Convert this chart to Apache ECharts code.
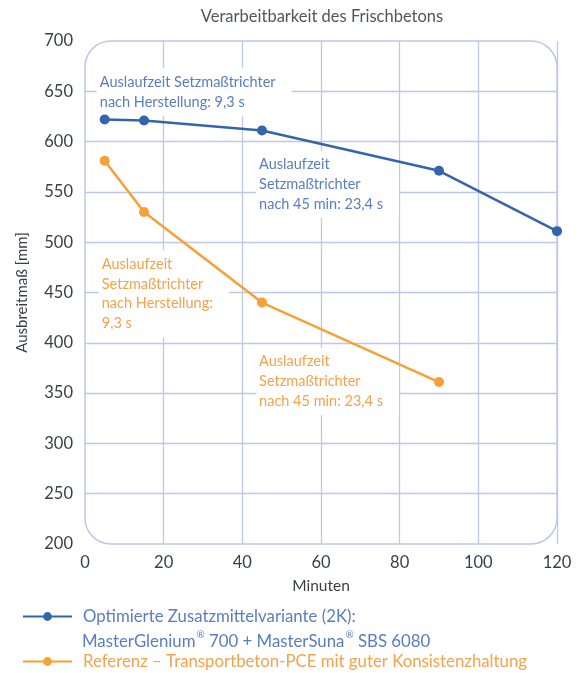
<!DOCTYPE html>
<html>
<head>
<meta charset="utf-8">
<script src="https://cdn.jsdelivr.net/npm/echarts@6/dist/echarts.min.js"></script>
<style>
html,body{margin:0;padding:0;background:#fff;}
#c{width:579px;height:673px;}
</style>
</head>
<body>
<div id="c"></div>
<script>
const titleText = 'Verarbeitbarkeit des Frischbetons';
const xName = 'Minuten';
const yName = 'Ausbreitmaß [mm]';
const blueName = 'Optimierte Zusatzmittelvariante (2K):';
const blueName2Parts = ['MasterGlenium', '®', ' 700 + MasterSuna', '®', ' SBS 6080'];
const orangeName = 'Referenz – Transportbeton-PCE mit guter Konsistenzhaltung';
const blueX = [5, 15, 45, 90, 120];
const blueY = [622, 621, 611, 571, 511];
const orangeX = [5, 15, 45, 90];
const orangeY = [581, 530, 440, 361];
const notes = [
  'Auslaufzeit Setzmaßtrichter\nnach Herstellung: 9,3 s',
  'Auslaufzeit\nSetzmaßtrichter\nnach 45 min: 23,4 s',
  'Auslaufzeit\nSetzmaßtrichter\nnach Herstellung:\n9,3 s',
  'Auslaufzeit\nSetzmaßtrichter\nnach 45 min: 23,4 s'
];

const BLUE = '#3464ae', BLUE_T = '#5a7dc2';
const ORANGE = '#f7a037', ORANGE_T = '#f5a24c';
const GRIDC = '#bdc8e8';
const FONT = 'Lato, "Open Sans", sans-serif';

const chart = echarts.init(document.getElementById('c'), null, {renderer: 'canvas'});

const noteStyle = (text, color) => ({
  text: text, fill: color, font: '14.5px ' + FONT, lineHeight: 19.8,
  backgroundColor: '#fff', padding: [4, 16, 4, 3]
});

const legendBase = {
  orient: 'horizontal', left: 22, padding: 0, itemWidth: 49, itemHeight: 11,
  textStyle: {fontSize: 16.8, fontFamily: FONT, padding: [0, 0, 0, 6]}
};

chart.setOption({
  animation: false,
  backgroundColor: '#fff',
  textStyle: {fontFamily: FONT},
  title: {
    text: titleText, left: 322, top: 8, textAlign: 'center', padding: 0,
    textStyle: {fontSize: 16.5, fontWeight: 'normal', color: '#50565e', fontFamily: FONT}
  },
  grid: {left: 85, right: 22, top: 41, bottom: 129, containLabel: false},
  xAxis: {
    type: 'value', min: 0, max: 120, interval: 20,
    name: xName, nameLocation: 'middle', nameGap: 34,
    nameTextStyle: {fontSize: 15.5, color: '#3a3f47', fontFamily: FONT},
    axisLine: {show: false}, axisTick: {show: false},
    axisLabel: {fontSize: 16.5, color: '#3a3f47', margin: 10, fontFamily: FONT},
    splitLine: {show: true, showMinLine: false, showMaxLine: true, lineStyle: {color: GRIDC, width: 1.3}}
  },
  yAxis: {
    type: 'value', min: 200, max: 700, interval: 50,
    name: yName, nameLocation: 'middle', nameGap: 55, nameRotate: 90,
    nameTextStyle: {fontSize: 15, color: '#3a3f47', fontFamily: FONT},
    axisLine: {show: false}, axisTick: {show: false},
    axisLabel: {fontSize: 16.5, color: '#3a3f47', margin: 12, fontFamily: FONT},
    splitLine: {show: true, showMinLine: false, showMaxLine: false, lineStyle: {color: GRIDC, width: 1.3}}
  },
  legend: [
    Object.assign({}, legendBase, {top: 608, data: [{name: blueName, textStyle: {color: BLUE_T}}]}),
    Object.assign({}, legendBase, {top: 653, data: [{name: orangeName, textStyle: {color: ORANGE_T}}]})
  ],
  series: [
    {
      name: blueName, type: 'line', clip: false, z: 3,
      data: blueX.map((x, i) => [x, blueY[i]]),
      symbol: 'circle', symbolSize: 10,
      lineStyle: {color: BLUE, width: 2.5}, itemStyle: {color: BLUE}
    },
    {
      name: orangeName, type: 'line', clip: false, z: 3,
      data: orangeX.map((x, i) => [x, orangeY[i]]),
      symbol: 'circle', symbolSize: 10,
      lineStyle: {color: ORANGE, width: 2.5}, itemStyle: {color: ORANGE}
    }
  ]
});

const p0 = chart.convertToPixel({gridIndex: 0}, [0, 700]);
const p1 = chart.convertToPixel({gridIndex: 0}, [120, 200]);
const at = (x, y) => chart.convertToPixel({gridIndex: 0}, [x, y]);
const n1 = at(3, 673), n2 = at(43.5, 591), n3 = at(3.5, 492), n4 = at(43.5, 395);

const legRich = blueName2Parts.map((t) => (t === '®' ? '{s|' + t + '}' : '{n|' + t + '}')).join('');

chart.setOption({
  graphic: [
    {id: 'frame', type: 'rect', z: 1, silent: true,
     shape: {x: p0[0], y: p0[1], width: p1[0] - p0[0], height: p1[1] - p0[1], r: 26},
     style: {fill: 'none', stroke: GRIDC, lineWidth: 1.5}},
    {id: 'n1', type: 'text', z: 1, x: n1[0], y: n1[1], style: noteStyle(notes[0], BLUE_T)},
    {id: 'n2', type: 'text', z: 1, x: n2[0], y: n2[1], style: noteStyle(notes[1], BLUE_T)},
    {id: 'n3', type: 'text', z: 1, x: n3[0], y: n3[1], style: noteStyle(notes[2], ORANGE_T)},
    {id: 'n4', type: 'text', z: 1, x: n4[0], y: n4[1], style: noteStyle(notes[3], ORANGE_T)},
    {id: 'leg2', type: 'text', z: 1, left: 82, top: 630,
     style: {
       text: legRich, fill: BLUE_T,
       rich: {
         n: {fontSize: 16.8, fontFamily: FONT, fill: BLUE_T, color: BLUE_T, verticalAlign: 'bottom', lineHeight: 20},
         s: {fontSize: 10, fontFamily: FONT, fill: BLUE_T, color: BLUE_T, verticalAlign: 'top', lineHeight: 20, padding: [0, 0, 10, 1]}
       }
     }}
  ]
});
</script>
</body>
</html>
